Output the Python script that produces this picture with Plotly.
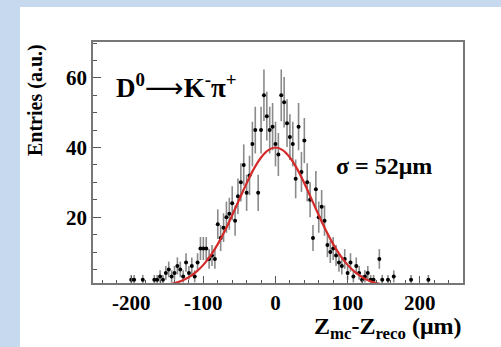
import numpy as np
import plotly.graph_objects as go

# Histogram bin centres (µm) and entries
bin_centres = [-200, -196, -184, -168, -164, -160, -156, -152, -148, -144, -140, -136, -132, -128,
               -124, -120, -116, -112, -108, -104, -100, -96, -92, -88, -84, -80, -76, -72, -68,
               -64, -60, -56, -52, -48, -44, -40, -36, -32, -28, -24, -20, -16, -12, -8, -4, 0,
               4, 8, 12, 16, 20, 24, 28, 32, 36, 40, 44, 48, 52, 56, 60, 64, 68, 72, 76, 80, 84,
               88, 92, 96, 100, 104, 108, 112, 116, 120, 124, 128, 132, 136, 144, 148, 156, 164,
               188, 212]
entries = [2, 2, 2, 2, 2, 3, 2, 4, 5, 3, 4, 6, 5, 3,
           7, 4, 6, 3, 7, 11, 11, 11, 8, 9, 8, 18, 14, 17, 20,
           21, 24, 19, 26, 30, 35, 27, 32, 41, 45, 27, 45, 55, 49, 45, 46, 41,
           38, 55, 53, 47, 43, 41, 31, 46, 33, 42, 30, 25, 14, 28, 20, 23, 19, 12, 10, 11, 9,
           7, 6, 8, 4, 7, 3, 6, 4, 2, 3, 4, 2, 2, 8, 2, 2, 3,
           2, 2]

# Gaussian fit curve (sigma = 52 µm)
fit_x = [-150, -140, -130, -120, -110, -100, -90, -80, -70, -60, -50, -40, -30, -20, -10, 0,
         10, 20, 30, 40, 50, 60, 70, 80, 90, 100, 110, 120, 130, 140, 150]
fit_y = [0.62, 1.07, 1.76, 2.79, 4.27, 6.30, 8.94, 12.25, 16.16, 20.56, 25.19, 29.76, 33.87,
         37.15, 39.27, 40.0, 39.27, 37.15, 33.87, 29.76, 25.19, 20.56, 16.16, 12.25, 8.94, 6.30,
         4.27, 2.79, 1.76, 1.07, 0.62]

x_ticks = [-200, -100, 0, 100, 200]
y_ticks = [20, 40, 60]

errors = np.sqrt(np.array(entries, dtype=float))

FONT = "Liberation Serif"

fig = go.Figure()
fig.add_trace(go.Scatter(
    x=bin_centres, y=entries, mode="markers",
    marker=dict(color="black", size=4, symbol="circle"),
    error_y=dict(type="data", array=errors, visible=True, color="#8a8a8a",
                 thickness=1.6, width=0),
    showlegend=False, hoverinfo="skip"))
fig.add_trace(go.Scatter(
    x=fit_x, y=fit_y, mode="lines", line=dict(color="#d42a2a", width=2.2, shape="spline"),
    showlegend=False, hoverinfo="skip"))

W, H = 501, 347
L, R, T, B = 93, 463, 42, 283
pw, ph = R - L, B - T

def px_x(p):
    return (p - L) / pw

def px_y(p):
    return (B - p) / ph

fig.add_shape(type="rect", xref="paper", yref="paper",
              x0=px_x(20), x1=px_x(510), y0=px_y(7), y1=px_y(360),
              fillcolor="white", line=dict(width=0), layer="below")

fig.update_layout(
    width=W, height=H,
    margin=dict(l=L, r=W - R, t=T, b=H - B),
    paper_bgcolor="#c6d9ee", plot_bgcolor="white",
    font=dict(family=FONT, color="black"),
    xaxis=dict(range=[-253, 260], tickvals=x_ticks, ticktext=[str(v) for v in x_ticks],
               ticks="inside", ticklen=7, tickcolor="#555", tickwidth=1,
               minor=dict(dtick=20, tick0=0, ticks="inside", ticklen=3, tickcolor="#555"),
               showline=True, linecolor="#777", linewidth=1.5, mirror=True,
               showgrid=False, zeroline=False,
               tickfont=dict(family=FONT, size=21, weight="bold", color="black")),
    yaxis=dict(range=[1.1, 70.3], tickvals=y_ticks, ticktext=[str(v) for v in y_ticks],
               ticks="inside", ticklen=8, tickcolor="#555", tickwidth=1,
               minor=dict(dtick=5, tick0=0, ticks="inside", ticklen=4, tickcolor="#555"),
               showline=True, linecolor="#777", linewidth=1.5, mirror=True,
               showgrid=False, zeroline=False,
               tickfont=dict(family=FONT, size=21, weight="bold", color="black")),
)

fig.add_annotation(xref="paper", yref="paper", x=px_x(114), y=px_y(86),
                   xanchor="left", yanchor="middle", showarrow=False,
                   text="D<sup>0</sup><span style=\"font-family:'DejaVu Sans';font-weight:normal\">⟶</span>K<sup>-</sup>π<sup>+</sup>",
                   font=dict(family=FONT, size=27, weight="bold", color="black"))
fig.add_annotation(xref="paper", yref="paper", x=px_x(334), y=px_y(166),
                   xanchor="left", yanchor="middle", showarrow=False,
                   text="σ = 52μm",
                   font=dict(family=FONT, size=24, weight="bold", color="black"))
fig.add_annotation(xref="paper", yref="paper", x=1.0, y=px_y(328),
                   xanchor="right", yanchor="middle", showarrow=False,
                   text="Z<sub>mc</sub>-Z<sub>reco</sub> (μm)",
                   font=dict(family=FONT, size=24, weight="bold", color="black"))
fig.add_annotation(xref="paper", yref="paper", x=px_x(35), y=1.0,
                   xanchor="center", yanchor="top", showarrow=False, textangle=-90,
                   text="Entries (a.u.)",
                   font=dict(family=FONT, size=20, weight="bold", color="black"))

fig.write_html("out.html", config={"displayModeBar": False},
               post_script="document.body.style.margin='0';document.body.style.overflow='hidden';")
